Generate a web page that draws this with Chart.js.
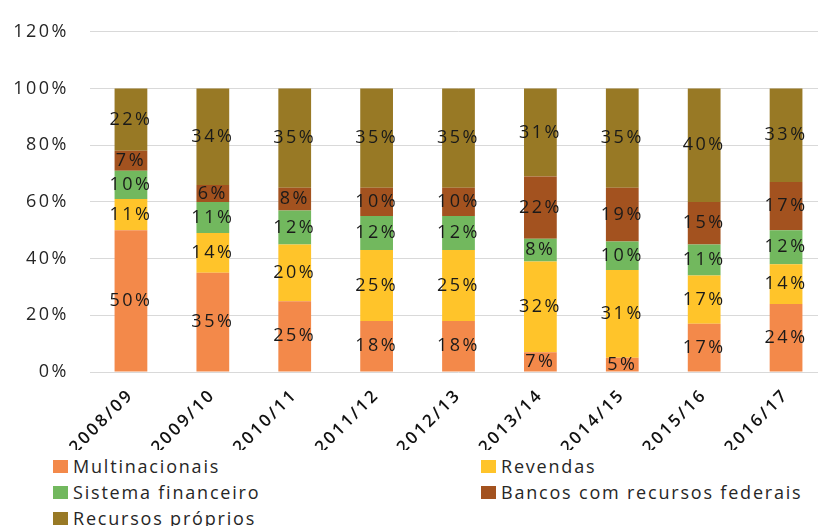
<!DOCTYPE html>
<html>
<head>
<meta charset="utf-8">
<script src="https://cdn.jsdelivr.net/npm/chart.js@4"></script>
<style>
  body { margin: 0; width: 818px; height: 526px; overflow: hidden; background: #fff; position: relative; }
  #wrap { position: absolute; left: 0; top: 0; width: 830px; height: 450px; }
  #legend {
    position: absolute; left: 53px; top: 453px;
    display: grid; grid-template-columns: 428px auto; grid-auto-rows: 26px;
    font-family: 'Open Sans', sans-serif; font-size: 18px; letter-spacing: 1.8px; color: #262626;
  }
  #legend .item { display: flex; align-items: center; white-space: nowrap; }
  #legend .box { width: 15px; height: 13px; margin-right: 5px; flex: none; }
</style>
</head>
<body>
<div id="wrap"><canvas id="financeChart"></canvas></div>
<div id="legend"></div>
<script>
const seasons = ['2008/09', '2009/10', '2010/11', '2011/12', '2012/13', '2013/14', '2014/15', '2015/16', '2016/17'];
const multinacionais = [50, 35, 25, 18, 18, 7, 5, 17, 24];
const revendas = [11, 14, 20, 25, 25, 32, 31, 17, 14];
const sistemaFinanceiro = [10, 11, 12, 12, 12, 8, 10, 11, 12];
const bancosFederais = [7, 6, 8, 10, 10, 22, 19, 15, 17];
const recursosProprios = [22, 34, 35, 35, 35, 31, 35, 40, 33];

const seriesNames = ['Multinacionais', 'Revendas', 'Sistema financeiro', 'Bancos com recursos federais', 'Recursos próprios'];
const seriesValues = [multinacionais, revendas, sistemaFinanceiro, bancosFederais, recursosProprios];
const seriesColors = ['#F3894A', '#FFC42A', '#72B85E', '#A3521F', '#987925'];

// canvas text is spaced out a little, like the rest of the page
const spacing = {
    id: 'spacing',
    beforeLayout(chart) { chart.ctx.letterSpacing = '2.5px'; },
    beforeDraw(chart) { chart.ctx.letterSpacing = '2.5px'; }
};

// percentage written in the middle of every segment
const segmentLabels = {
    id: 'segmentLabels',
    afterDatasetsDraw(chart) {
        const ctx = chart.ctx;
        ctx.save();
        ctx.font = '18px "Open Sans"';
        ctx.fillStyle = '#1a1a1a';
        ctx.textAlign = 'center';
        ctx.textBaseline = 'middle';
        chart.data.datasets.forEach((ds, i) => {
            chart.getDatasetMeta(i).data.forEach((bar, j) => {
                const v = ds.data[j];
                if (!v) return;
                ctx.fillText(v + '%', bar.x, (bar.y + bar.base) / 2);
            });
        });
        ctx.restore();
    }
};

const datasets = seriesNames.map((name, i) => ({
    label: name,
    data: seriesValues[i],
    backgroundColor: seriesColors[i],
    borderWidth: 0,
    categoryPercentage: 1,
    barPercentage: 0.4
}));

const ctx = document.getElementById('financeChart').getContext('2d');
const myChart = new Chart(ctx, {
    type: 'bar',
    data: { labels: seasons, datasets: datasets },
    options: {
        animation: false,
        responsive: true,
        maintainAspectRatio: false,
        layout: { padding: { top: 24, right: 3, left: 0, bottom: 0 } },
        plugins: {
            legend: { display: false },
            tooltip: { enabled: false }
        },
        scales: {
            x: {
                stacked: true,
                grid: { display: false },
                border: { display: false },
                ticks: {
                    autoSkip: false,
                    maxRotation: 45,
                    minRotation: 45,
                    padding: 5,
                    color: '#111',
                    font: { family: 'Open Sans', size: 17, weight: 600 }
                },
                afterFit(scale) { scale.height = 78; }
            },
            y: {
                stacked: true,
                min: 0,
                max: 120,
                ticks: {
                    stepSize: 20,
                    padding: 21,
                    color: '#262626',
                    font: { family: 'Open Sans', size: 18 },
                    callback: v => v + '%'
                },
                grid: { color: '#D9D9D9', drawTicks: false },
                border: { display: false },
                afterFit(scale) { scale.width = 90; }
            }
        }
    },
    plugins: [spacing, segmentLabels]
});

// two-column legend under the chart
const legendEl = document.getElementById('legend');
myChart.data.datasets.forEach(ds => {
    const item = document.createElement('div');
    item.className = 'item';
    const box = document.createElement('span');
    box.className = 'box';
    box.style.background = ds.backgroundColor;
    item.appendChild(box);
    item.appendChild(document.createTextNode(ds.label));
    legendEl.appendChild(item);
});
</script>
</body>
</html>
